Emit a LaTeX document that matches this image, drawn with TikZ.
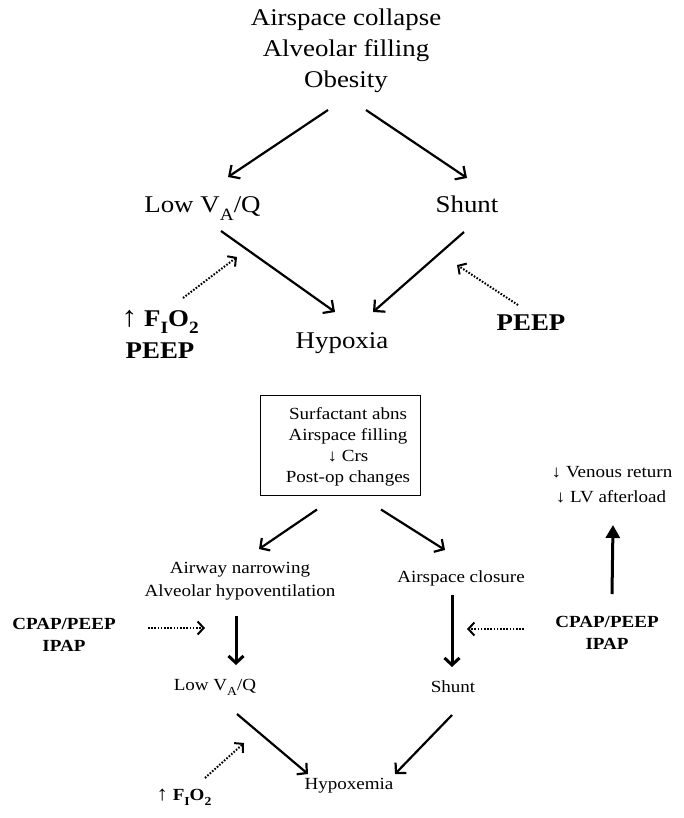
\documentclass[tikz,border=0pt]{standalone}
\usepackage{fontspec}
\setmainfont{Liberation Serif}[FakeStretch=1.12]
\usetikzlibrary{arrows.meta}
\newcommand\lsub[1]{\raisebox{-0.3em}{\scalebox{0.72}{#1}}}
\begin{document}
\begin{tikzpicture}[x=1pt,y=-1pt,
  big/.style={anchor=base, inner sep=0pt, font=\fontsize{24}{29}\selectfont},
  bigb/.style={anchor=base, inner sep=0pt, font=\fontsize{24}{29}\selectfont\bfseries},
  sm/.style={anchor=base, inner sep=0pt, font=\fontsize{17}{20}\selectfont},
  smb/.style={anchor=base, inner sep=0pt, font=\fontsize{17}{20}\selectfont\bfseries},
  arrT/.style={line width=2.2pt, -{Straight Barb[length=8pt,width=16pt]}},
  arrB/.style={line width=2.2pt, -{Straight Barb[length=7pt,width=15pt]}},
  arrV/.style={line width=3pt, -{Straight Barb[length=7pt,width=15pt]}},
  dotarr/.style={line width=2pt, dash pattern=on 1.6pt off 1.6pt, -{Straight Barb[length=6pt,width=13pt]}},
  thickup/.style={line width=3pt, -{Triangle[length=13pt,width=14pt]}},
  boxstyle/.style={draw, line width=1pt, minimum width=160pt, minimum height=100pt, inner sep=0pt}
]
\useasboundingbox (0,0) rectangle (684,818);

% ---------- top part ----------
\node[big] (t1) at (346,25.5) {Airspace collapse};
\node[big] (t2) at (346,57) {Alveolar filling};
\node[big] (t3) at (346,88) {Obesity};
\node[big] (lowA) at (202.5,213) {Low V\lsub{A}/Q};
\node[big] (shuntA) at (467,213) {Shunt};
\node[big] (hyp) at (342,348) {Hypoxia};
\node[bigb] (fio) at (160,326) {{\mdseries\scalebox{1.2}{↑}} F\lsub{I}O\lsub{2}};
\node[bigb] (peepL) at (160,358) {PEEP};
\node[bigb] (peepR) at (531,330) {PEEP};

\draw[arrT] ([shift={(-18,22)}]t3.base) -- ([shift={(25.5,-36)}]lowA.base);
\draw[arrT] ([shift={(20,22)}]t3.base) -- ([shift={(0,-35)}]shuntA.base);
\draw[arrT] ([shift={(18.5,18)}]lowA.base) -- ([shift={(-7,-36)}]hyp.base);
\draw[arrT] ([shift={(-3,19)}]shuntA.base) -- ([shift={(31,-36)}]hyp.base);
\draw[dotarr] ([shift={(23,-28)}]fio.base) -- ([shift={(34.5,44)}]lowA.base);
\draw[dotarr] ([shift={(-13,-25)}]peepR.base) -- ([shift={(-10,52)}]shuntA.base);

% ---------- bottom part ----------
\node[boxstyle] (box) at (340,445) {};
\node[sm] (b1) at (348,419) {Surfactant abns};
\node[sm] (b2) at (348,440) {Airspace filling};
\node[sm] (b3) at (348,461) {↓ Crs};
\node[sm] (b4) at (348,482) {Post-op changes};

\node[sm] (aw1) at (240,573) {Airway narrowing};
\node[sm] (aw2) at (240,596) {Alveolar hypoventilation};
\node[sm] (clos) at (461,582) {Airspace closure};
\node[sm] (lowB) at (215,690) {Low V\lsub{A}/Q};
\node[sm] (shuntB) at (453,692) {Shunt};
\node[sm] (hypB) at (349,789) {Hypoxemia};
\node[smb] (fioB) at (184,800) {{\mdseries\scalebox{1.2}{↑}} F\lsub{I}O\lsub{2}};
\node[smb] (cpL1) at (64,629) {CPAP/PEEP};
\node[smb] (cpL2) at (64,651) {IPAP};
\node[smb] (cpR1) at (607,627) {CPAP/PEEP};
\node[smb] (cpR2) at (607,649) {IPAP};
\node[sm] (vr1) at (612,477) {↓ Venous return};
\node[sm] (vr2) at (611,502) {↓ LV afterload};

\draw[arrB] ([shift={(-23,14)}]box.south) -- ([shift={(19,-24)}]aw1.base);
\draw[arrB] ([shift={(41,14)}]box.south) -- ([shift={(-16,-32)}]clos.base);
\draw[arrV] ([shift={(-4,20)}]aw2.base) -- ([shift={(21,-25)}]lowB.base);
\draw[arrV] ([shift={(-9,13)}]clos.base) -- ([shift={(-1,-25)}]shuntB.base);
\draw[arrB] ([shift={(22,24)}]lowB.base) -- ([shift={(-41,-15)}]hypB.base);
\draw[arrB] ([shift={(-1,23)}]shuntB.base) -- ([shift={(46,-15)}]hypB.base);
\draw[dotarr] ([shift={(21,-22)}]fioB.base) -- ([shift={(29,53)}]lowB.base);
\draw[dotarr] ([shift={(84,-1)}]cpL1.base) -- ([shift={(141,-1)}]cpL1.base);
\draw[dotarr] ([shift={(-83,2)}]cpR1.base) -- ([shift={(-140,2)}]cpR1.base);
\draw[thickup] ([shift={(5,-33)}]cpR1.base) -- ([shift={(2,23)}]vr2.base);
\end{tikzpicture}
\end{document}
